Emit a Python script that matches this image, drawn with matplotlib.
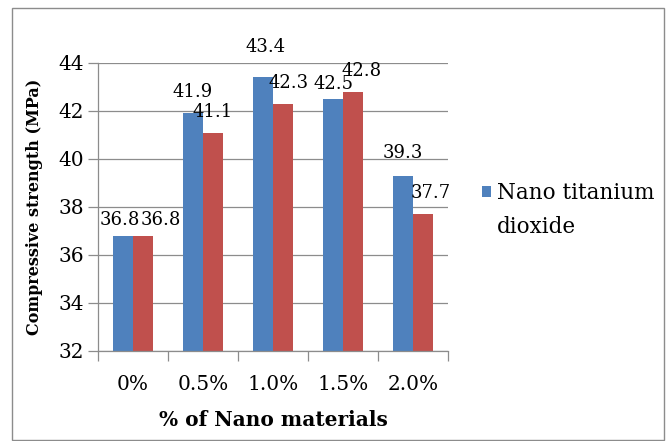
import numpy as np
import matplotlib.pyplot as plt
from matplotlib.patches import Rectangle
from matplotlib.transforms import IdentityTransform

categories = ["0%", "0.5%", "1.0%", "1.5%", "2.0%"]
tio2 = [36.8, 41.9, 43.4, 42.5, 39.3]
other = [36.8, 41.1, 42.3, 42.8, 37.7]

# label nudges (pixels) so the value labels sit like in the original chart
tio2_dx = [-3, 0, 3, 0, 0]
tio2_dy = [7, 12, 21, 6, 14]
other_dx = [18, 0, 6, 9, 8]
other_dy = [7, 12, 12, 12, 12]

blue = "#4F81BD"
red = "#C0504D"
grid_c = "#8c8c8c"
plt.rcParams['font.family'] = ['DejaVu Serif']


def main():
    fig = plt.figure(figsize=(6.7, 4.41), dpi=100)
    ax = fig.add_axes([98 / 670, 1 - 351 / 441, 350 / 670, 288 / 441])

    x = np.arange(len(categories))
    w = 0.285
    b1 = ax.bar(x - w / 2, tio2, w, color=blue, label="Nano titanium", zorder=2)
    b2 = ax.bar(x + w / 2, other, w, color=red, zorder=2)

    px = 72 / fig.dpi
    for bars, dxs, dys in ((b1, tio2_dx, tio2_dy), (b2, other_dx, other_dy)):
        for r, dx, dy in zip(bars, dxs, dys):
            ax.annotate(f"{r.get_height():.1f}", (r.get_x() + r.get_width() / 2, r.get_height()),
                        xytext=(dx * px, dy * px), textcoords="offset points",
                        ha="center", va="bottom", fontsize=13)

    ax.set_ylim(32, 44)
    ax.set_yticks(np.arange(32, 45, 2))
    ax.set_xlim(-0.5, len(categories) - 0.5)
    ax.yaxis.grid(True, color=grid_c, linewidth=0.9, zorder=0)
    ax.set_axisbelow(True)

    # category ticks at boundaries, labels at centres
    ax.set_xticks(x)
    ax.set_xticklabels(categories, fontsize=14.5)
    ax.tick_params(axis="x", length=0, pad=17)
    ax.set_xticks(np.arange(-0.5, len(categories), 1), minor=True)
    ax.tick_params(axis="x", which="minor", length=7, color=grid_c, width=0.9)
    ax.tick_params(axis="y", length=7, color=grid_c, width=0.9, labelsize=14.5, pad=3)

    for s in ("top", "right"):
        ax.spines[s].set_visible(False)
    for s in ("left", "bottom"):
        ax.spines[s].set_color(grid_c)
        ax.spines[s].set_linewidth(0.9)

    ax.set_ylabel("Compressive strength (MPa)", fontsize=11.5, fontweight="bold", labelpad=11)
    ax.set_xlabel("% of Nano materials", fontsize=14.5, fontweight="bold", labelpad=12)

    leg = fig.legend(handles=[b1], loc="center left", bbox_to_anchor=(482 / 670, 1 - 193 / 441),
                     frameon=False, fontsize=15.5, handlelength=0.42, handleheight=0.42,
                     handletextpad=0.28, borderpad=0, borderaxespad=0)
    # second line of the legend entry, spaced like the original
    fig.canvas.draw()
    bb = leg.get_texts()[0].get_window_extent()
    fig.text(bb.x0, bb.y0 - 34, "dioxide", fontsize=15.5, transform=IdentityTransform(),
             ha="left", va="bottom")

    # outer chart border
    fig.patches.append(Rectangle((12 / 670, 1 - 440 / 441), 652 / 670, 432 / 441,
                                 transform=fig.transFigure, fill=False,
                                 edgecolor="#8c8c8c", linewidth=1.0))

    fig.savefig("out.png", dpi=100)


if __name__ == "__main__":
    main()
